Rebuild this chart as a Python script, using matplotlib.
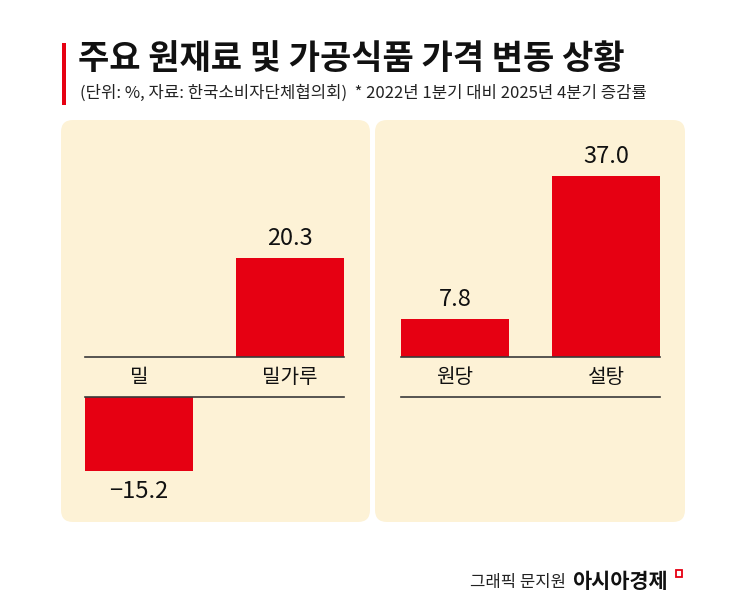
import matplotlib
matplotlib.use("Agg")
import matplotlib.pyplot as plt
from matplotlib.patches import FancyBboxPatch, Rectangle

plt.rcParams["font.family"] = ["Noto Sans CJK KR", "DejaVu Sans"]

# data
title = "주요 원재료 및 가공식품 가격 변동 상황"
subtitle = "(단위: %, 자료: 한국소비자단체협의회)  * 2022년 1분기 대비 2025년 4분기 증감률"
grain_labels = ["밀", "밀가루"]
grain_values = [-15.2, 20.3]
sugar_labels = ["원당", "설탕"]
sugar_values = [7.8, 37.0]
credit = "그래픽 문지원"
brand = "아시아경제"

RED = "#e60012"
PANEL = "#fdf2d6"
LINE = "#3a3a3a"
W, H = 745, 613
PX_PER_UNIT = 4.9

fig = plt.figure(figsize=(W / 100, H / 100), dpi=100)
fig.patch.set_facecolor("white")

# layout layer in pixel coordinates
bg = fig.add_axes([0, 0, 1, 1])
bg.set_xlim(0, W)
bg.set_ylim(H, 0)
bg.axis("off")
bg.add_patch(Rectangle((62, 43), 4, 62, color=RED, lw=0))
for x0, x1 in [(61, 370), (375, 685)]:
    bg.add_patch(FancyBboxPatch((x0, 120), x1 - x0, 402,
                                boxstyle="round,pad=0,rounding_size=12",
                                fc=PANEL, ec="none"))
# small red logo mark
bg.add_patch(Rectangle((676, 570), 6, 7, fc="none", ec=RED, lw=1.3))

fig.text(78 / W, 1 - 58 / H, title, fontsize=24.5, fontweight="bold",
         ha="left", va="center", color="#111111")
fig.text(80 / W, 1 - 93 / H, subtitle, fontsize=12,
         ha="left", va="center", color="#222222")
fig.text(566 / W, 1 - 582 / H, credit, fontsize=12,
         ha="right", va="center", color="#222222")
fig.text(572 / W, 1 - 582 / H, brand, fontsize=15, fontweight="bold",
         ha="left", va="center", color="#111111")


def px_axes(x0, y0, x1, y1):
    ax = fig.add_axes([x0 / W, 1 - y1 / H, (x1 - x0) / W, (y1 - y0) / H])
    ax.patch.set_alpha(0)
    ax.axis("off")
    return ax


def draw_panel(x0, x1, labels, values):
    top = px_axes(x0, 130, x1, 357)
    bottom = px_axes(x0, 397, x1, 517)
    top.set_ylim(0, 227 / PX_PER_UNIT)
    bottom.set_ylim(-120 / PX_PER_UNIT, 0)
    pos = list(range(len(labels)))
    for ax in (top, bottom):
        ax.set_xlim(-0.358, len(labels) - 1 + 0.358)
    top.bar(pos, [max(v, 0) for v in values], width=0.715, color=RED, zorder=2)
    bottom.bar(pos, [min(v, 0) for v in values], width=0.715, color=RED, zorder=2)
    top.axhline(0, color=LINE, lw=1.2, zorder=3, clip_on=False)
    bottom.axhline(0, color=LINE, lw=1.2, zorder=3, clip_on=False)
    for i, (lab, v) in enumerate(zip(labels, values)):
        top.annotate(lab, (i, 0), xytext=(0, -14.5), textcoords="offset points",
                     ha="center", va="center", fontsize=14.5, color="#111111")
        if v >= 0:
            top.annotate(f"{v:.1f}", (i, v), xytext=(0, 13.7),
                         textcoords="offset points", ha="center", va="center",
                         fontsize=17, color="#111111")
        else:
            bottom.annotate(f"−{abs(v):.1f}", (i, v), xytext=(0, -14.5),
                            textcoords="offset points", ha="center", va="center",
                            fontsize=17, color="#111111")


draw_panel(85, 344, grain_labels, grain_values)
draw_panel(401, 660, sugar_labels, sugar_values)

fig.savefig("out.png", dpi=100, facecolor="white")
